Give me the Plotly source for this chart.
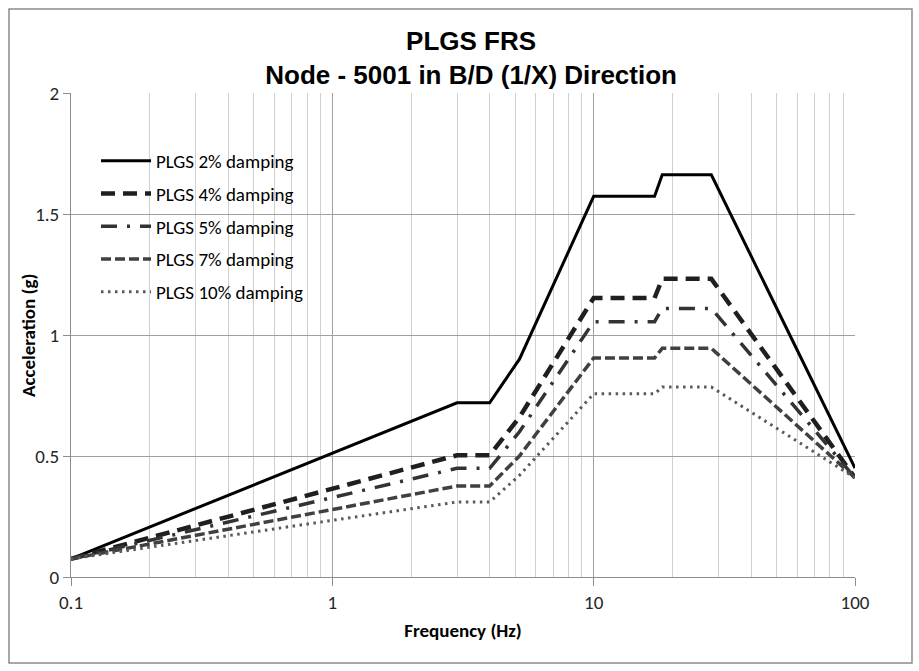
import plotly.graph_objects as go

# Floor response spectra, node 5001, B/D (1/X) direction
freq_hz = [0.1, 3.0, 4.0, 5.2, 10.0, 17.1, 18.3, 28.2, 100.0]

acc_2pct = [0.075, 0.720, 0.720, 0.900, 1.573, 1.573, 1.662, 1.662, 0.450]
acc_4pct = [0.075, 0.503, 0.503, 0.660, 1.153, 1.153, 1.232, 1.232, 0.410]
acc_5pct = [0.075, 0.449, 0.449, 0.600, 1.055, 1.055, 1.110, 1.110, 0.410]
acc_7pct = [0.075, 0.376, 0.376, 0.500, 0.905, 0.905, 0.945, 0.945, 0.410]
acc_10pct = [0.075, 0.310, 0.310, 0.420, 0.757, 0.757, 0.785, 0.785, 0.410]

series_names = ["PLGS 2% damping", "PLGS 4% damping", "PLGS 5% damping",
                "PLGS 7% damping", "PLGS 10% damping"]
series_values = [acc_2pct, acc_4pct, acc_5pct, acc_7pct, acc_10pct]

x_tick_vals = [0.1, 1, 10, 100]
x_tick_text = ["0.1", "1", "10", "100"]
y_tick_vals = [0, 0.5, 1, 1.5, 2]
y_tick_text = ["0", "0.5", "1", "1.5", "2"]

line_styles = [
    dict(color="#000000", width=3, dash="solid"),
    dict(color="#1f1f1f", width=4.5, dash="14px,8px"),
    dict(color="#333333", width=3.5, dash="16px,10px,3px,10px"),
    dict(color="#404040", width=3.5, dash="10px,4px"),
    dict(color="#5a5a5a", width=3, dash="2.5px,4.5px"),
]

W, H = 919, 671
L, R, T, B = 71, 64, 93, 94
plot_w = W - L - R
plot_h = H - T - B

body_font = "Carlito, Calibri, 'Open Sans', sans-serif"
body_size = 19

fig = go.Figure()
for i, (name, vals, style) in enumerate(zip(series_names, series_values, line_styles)):
    fig.add_trace(go.Scatter(
        x=freq_hz, y=vals, mode="lines", name=name,
        line=style, legendgroup=f"g{i}",
    ))

def px_x(px):
    return (px - L) / plot_w

def px_y(py):
    return (H - B - py) / plot_h

fig.update_layout(
    width=W, height=H,
    margin=dict(l=L, r=R, t=T, b=B),
    paper_bgcolor="white", plot_bgcolor="white",
    title=dict(
        text="<b>PLGS FRS</b><br><b>Node - 5001 in B/D (1/X) Direction</b>",
        font=dict(family="Arial, Liberation Sans, sans-serif", size=26, color="#000000"),
        x=469 / W, xanchor="center", xref="paper",
        y=1 - 50 / H, yanchor="top", yref="container",
    ),
    showlegend=True,
    legend=dict(
        x=px_x(96), y=px_y(142), xanchor="left", yanchor="top",
        bgcolor="rgba(0,0,0,0)", borderwidth=0,
        font=dict(family=body_font, size=body_size, color="#000000"),
        itemwidth=50, tracegroupgap=5,
    ),
    xaxis=dict(
        type="log", range=[-1, 2],
        tickvals=x_tick_vals, ticktext=x_tick_text,
        showgrid=True, gridcolor="#a0a0a0", gridwidth=1,
        minor=dict(dtick="D1", showgrid=True, gridcolor="#d0d0d0", gridwidth=1, ticks=""),
        showline=True, linecolor="#8c8c8c", linewidth=1,
        ticks="outside", ticklen=8, tickcolor="#8c8c8c",
        tickfont=dict(family=body_font, size=body_size, color="#262626"),
        title=dict(text="<b>Frequency (Hz)</b>",
                   font=dict(family=body_font, size=body_size, color="#000000"), standoff=10),
        zeroline=False,
    ),
    yaxis=dict(
        range=[0, 2],
        tickvals=y_tick_vals, ticktext=y_tick_text,
        showgrid=True, gridcolor="#a0a0a0", gridwidth=1,
        showline=True, linecolor="#8c8c8c", linewidth=1,
        ticks="outside", ticklen=7, tickcolor="#8c8c8c",
        tickfont=dict(family=body_font, size=body_size, color="#262626"),
        zeroline=False,
    ),
    annotations=[dict(
        text="<b>Acceleration (g)</b>", textangle=-90,
        xref="paper", yref="paper", x=px_x(28), y=0.5,
        xanchor="center", yanchor="middle", showarrow=False,
        font=dict(family=body_font, size=body_size, color="#000000"),
    )],
)

# chart-area frame
fig.add_shape(
    type="rect", xref="paper", yref="paper",
    x0=px_x(9), x1=px_x(912), y0=px_y(663), y1=px_y(9),
    line=dict(color="#8c8c8c", width=1.5), fillcolor="rgba(0,0,0,0)", layer="below",
)

fig.write_html("out.html")
